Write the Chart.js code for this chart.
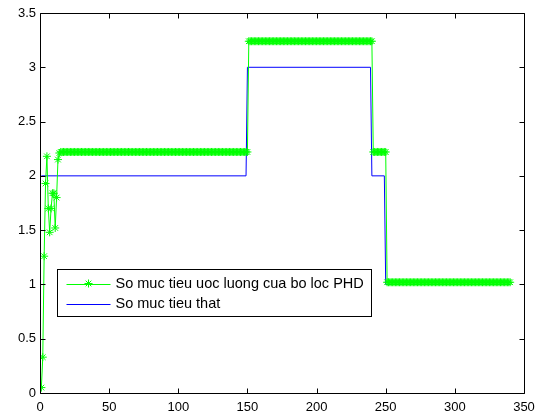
<!DOCTYPE html>
<html>
<head>
<meta charset="utf-8">
<script src="https://cdn.jsdelivr.net/npm/chart.js@4.4.1/dist/chart.umd.min.js"></script>
<style>
  html, body { margin: 0; padding: 0; background: #fff; }
  #wrap { width: 542px; height: 417px; }
</style>
</head>
<body>
<div id="wrap"><canvas id="c" width="542" height="417"></canvas></div>
<script>
// ---- data ----
const seriesNames = ["So muc tieu uoc luong cua bo loc PHD", "So muc tieu that"];

// estimated number of targets, one value per time step k = 1..340
const estimatedCount = [
  0.05,0.33,1.26,1.93,2.18,1.70,1.48,1.70,1.84,1.84,
  1.52,1.80,2.15,2.21,2.22,2.22,2.22,2.22,2.22,2.22,
  2.22,2.22,2.22,2.22,2.22,2.22,2.22,2.22,2.22,2.22,
  2.22,2.22,2.22,2.22,2.22,2.22,2.22,2.22,2.22,2.22,
  2.22,2.22,2.22,2.22,2.22,2.22,2.22,2.22,2.22,2.22,
  2.22,2.22,2.22,2.22,2.22,2.22,2.22,2.22,2.22,2.22,
  2.22,2.22,2.22,2.22,2.22,2.22,2.22,2.22,2.22,2.22,
  2.22,2.22,2.22,2.22,2.22,2.22,2.22,2.22,2.22,2.22,
  2.22,2.22,2.22,2.22,2.22,2.22,2.22,2.22,2.22,2.22,
  2.22,2.22,2.22,2.22,2.22,2.22,2.22,2.22,2.22,2.22,
  2.22,2.22,2.22,2.22,2.22,2.22,2.22,2.22,2.22,2.22,
  2.22,2.22,2.22,2.22,2.22,2.22,2.22,2.22,2.22,2.22,
  2.22,2.22,2.22,2.22,2.22,2.22,2.22,2.22,2.22,2.22,
  2.22,2.22,2.22,2.22,2.22,2.22,2.22,2.22,2.22,2.22,
  2.22,2.22,2.22,2.22,2.22,2.22,2.22,2.22,2.22,2.22,
  3.24,3.24,3.24,3.24,3.24,3.24,3.24,3.24,3.24,3.24,
  3.24,3.24,3.24,3.24,3.24,3.24,3.24,3.24,3.24,3.24,
  3.24,3.24,3.24,3.24,3.24,3.24,3.24,3.24,3.24,3.24,
  3.24,3.24,3.24,3.24,3.24,3.24,3.24,3.24,3.24,3.24,
  3.24,3.24,3.24,3.24,3.24,3.24,3.24,3.24,3.24,3.24,
  3.24,3.24,3.24,3.24,3.24,3.24,3.24,3.24,3.24,3.24,
  3.24,3.24,3.24,3.24,3.24,3.24,3.24,3.24,3.24,3.24,
  3.24,3.24,3.24,3.24,3.24,3.24,3.24,3.24,3.24,3.24,
  3.24,3.24,3.24,3.24,3.24,3.24,3.24,3.24,3.24,3.24,
  2.22,2.22,2.22,2.22,2.22,2.22,2.22,2.22,2.22,2.22,
  1.02,1.02,1.02,1.02,1.02,1.02,1.02,1.02,1.02,1.02,
  1.02,1.02,1.02,1.02,1.02,1.02,1.02,1.02,1.02,1.02,
  1.02,1.02,1.02,1.02,1.02,1.02,1.02,1.02,1.02,1.02,
  1.02,1.02,1.02,1.02,1.02,1.02,1.02,1.02,1.02,1.02,
  1.02,1.02,1.02,1.02,1.02,1.02,1.02,1.02,1.02,1.02,
  1.02,1.02,1.02,1.02,1.02,1.02,1.02,1.02,1.02,1.02,
  1.02,1.02,1.02,1.02,1.02,1.02,1.02,1.02,1.02,1.02,
  1.02,1.02,1.02,1.02,1.02,1.02,1.02,1.02,1.02,1.02,
  1.02,1.02,1.02,1.02,1.02,1.02,1.02,1.02,1.02,1.02
];

// true number of targets: step function, corner points
const trueSteps  = [1, 149, 150, 239, 240, 249, 250, 340];
const trueCount  = [2, 2,   3,   3,   2,   2,   1,   1];

const xTicks = [0, 50, 100, 150, 200, 250, 300, 350];
const yTicks = [0, 0.5, 1, 1.5, 2, 2.5, 3, 3.5];

// ---- build ----
const estPoints = estimatedCount.map((v, i) => ({ x: i + 1, y: v }));
const truePoints = trueSteps.map((k, i) => ({ x: k, y: trueCount[i] }));

const GREEN = '#00FF00';
const BLUE = '#0000FF';
const FONT = 'Arial, "Liberation Sans", Helvetica, sans-serif';

const matlabFrame = {
  id: 'matlabFrame',
  afterDraw(chart) {
    const ctx = chart.ctx;
    const ca = chart.chartArea;
    const xs = chart.scales.x, ys = chart.scales.y;
    ctx.save();
    ctx.strokeStyle = '#000';
    ctx.lineWidth = 1;
    const L = Math.round(ca.left) + 0.5, R = Math.round(ca.right) + 0.5;
    const T = Math.round(ca.top) + 0.5, B = Math.round(ca.bottom) + 0.5;
    ctx.beginPath();
    ctx.rect(L, T, R - L, B - T);
    ctx.stroke();
    const tl = 5;
    ctx.beginPath();
    xTicks.forEach(v => {
      const px = Math.round(xs.getPixelForValue(v)) + 0.5;
      ctx.moveTo(px, B); ctx.lineTo(px, B - tl);
      ctx.moveTo(px, T); ctx.lineTo(px, T + tl);
    });
    yTicks.forEach(v => {
      const py = Math.round(ys.getPixelForValue(v)) + 0.5;
      ctx.moveTo(L, py); ctx.lineTo(L + tl, py);
      ctx.moveTo(R, py); ctx.lineTo(R - tl, py);
    });
    ctx.stroke();

    // legend box inside the axes
    ctx.font = '14.5px ' + FONT;
    const bx = Math.round(ca.left + 17) + 0.5;
    const by = Math.round(ca.top + 256) + 0.5;
    const lineX0 = bx + 9, lineX1 = bx + 53;
    const textX = bx + 58;
    const w1 = ctx.measureText(seriesNames[0]).width;
    const bw = Math.round(textX - bx + w1 + 8);
    const bh = 47;
    ctx.fillStyle = '#fff';
    ctx.fillRect(bx, by, bw, bh);
    ctx.strokeStyle = '#000';
    ctx.strokeRect(bx, by, bw, bh);
    const r1 = by + 14, r2 = by + 34;
    ctx.strokeStyle = GREEN;
    ctx.beginPath(); ctx.moveTo(lineX0, Math.round(r1) + 0.5); ctx.lineTo(lineX1, Math.round(r1) + 0.5); ctx.stroke();
    Chart.helpers.drawPoint(ctx, { pointStyle: 'star', radius: 4, borderWidth: 1 }, (lineX0 + lineX1) / 2, r1);
    ctx.strokeStyle = BLUE;
    ctx.beginPath(); ctx.moveTo(lineX0, Math.round(r2) + 0.5); ctx.lineTo(lineX1, Math.round(r2) + 0.5); ctx.stroke();
    ctx.fillStyle = '#000';
    ctx.textBaseline = 'middle';
    ctx.textAlign = 'left';
    ctx.fillText(seriesNames[0], textX, r1);
    ctx.fillText(seriesNames[1], textX, r2);
    ctx.restore();
  }
};

new Chart(document.getElementById('c'), {
  type: 'line',
  data: {
    datasets: [
      {
        label: seriesNames[0],
        data: estPoints,
        borderColor: GREEN,
        backgroundColor: GREEN,
        borderWidth: 1,
        pointStyle: 'star',
        pointRadius: 4,
        pointBorderColor: GREEN,
        pointBorderWidth: 1,
        tension: 0,
        fill: false
      },
      {
        label: seriesNames[1],
        data: truePoints,
        borderColor: BLUE,
        backgroundColor: BLUE,
        borderWidth: 1,
        pointRadius: 0,
        tension: 0,
        fill: false
      }
    ]
  },
  options: {
    responsive: false,
    animation: false,
    devicePixelRatio: 1,
    layout: { padding: { left: 0, right: 18, top: 13, bottom: 0 } },
    plugins: { legend: { display: false }, tooltip: { enabled: false } },
    scales: {
      x: {
        type: 'linear', min: 0, max: 350,
        afterBuildTicks: s => { s.ticks = xTicks.map(v => ({ value: v })); },
        afterFit: s => { s.height = 24; },
        grid: { display: false, drawTicks: false },
        border: { display: false },
        ticks: { color: '#000', font: { size: 13, family: FONT }, padding: 7, maxRotation: 0,
                 callback: v => String(v) }
      },
      y: {
        type: 'linear', min: 0, max: 3.5,
        afterBuildTicks: s => { s.ticks = yTicks.map(v => ({ value: v })); },
        afterFit: s => { s.width = 40; },
        grid: { display: false, drawTicks: false },
        border: { display: false },
        ticks: { color: '#000', font: { size: 13, family: FONT }, padding: 4,
                 callback: v => String(v) }
      }
    }
  },
  plugins: [matlabFrame]
});
</script>
</body>
</html>
